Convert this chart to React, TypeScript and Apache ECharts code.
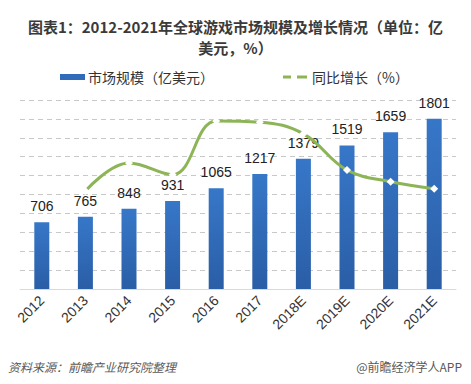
import React, { useEffect, useRef } from "react";
import * as echarts from "echarts";

const categories = ["2012", "2013", "2014", "2015", "2016", "2017", "2018E", "2019E", "2020E", "2021E"];
const marketSize = [706, 765, 848, 931, 1065, 1217, 1379, 1519, 1659, 1801];
const growthRate: (number | null)[] = [null, 8.4, 10.8, 9.8, 14.4, 14.3, 13.3, 10.2, 9.2, 8.6];

const CJK = "'Noto Sans CJK SC', 'Microsoft YaHei', sans-serif";
const LAT = "'Liberation Sans', Arial, 'Noto Sans CJK SC', sans-serif";
const GREEN = "#8db456";

export default function App() {
  const ref = useRef<HTMLDivElement>(null);
  useEffect(() => {
    if (!ref.current) return;
    const chart = echarts.init(ref.current, null, { renderer: "svg" });
    chart.setOption({
      animation: false,
      backgroundColor: "#ffffff",
      title: {
        text: "图表1：2012-2021年全球游戏市场规模及增长情况（单位：亿\n美元，%）",
        left: "center",
        top: 11,
        textStyle: {
          fontFamily: CJK,
          fontSize: 15,
          fontWeight: "bold",
          color: "#3a3a3a",
          lineHeight: 21,
          align: "center",
        },
      },
      grid: { left: 20, right: 15, top: 100, bottom: 95 },
      xAxis: {
        type: "category",
        data: categories,
        axisLine: { lineStyle: { color: "#d9d9d9", width: 1 } },
        axisTick: { show: false },
        axisLabel: {
          rotate: 45,
          fontFamily: LAT,
          fontSize: 14,
          color: "#333333",
          margin: 9,
          interval: 0,
        },
      },
      yAxis: [
        {
          type: "value",
          min: 0,
          max: 2000,
          interval: 200,
          axisLabel: { show: false },
          axisLine: { show: false },
          axisTick: { show: false },
          splitLine: { lineStyle: { color: "#c8c8c8", type: [5, 4], width: 1 } },
        },
        {
          type: "value",
          min: 0,
          max: 16.2,
          axisLabel: { show: false },
          axisLine: { show: false },
          axisTick: { show: false },
          splitLine: { show: false },
        },
      ],
      series: [
        {
          name: "市场规模（亿美元）",
          type: "bar",
          data: marketSize,
          barWidth: 15,
          itemStyle: {
            color: new echarts.graphic.LinearGradient(0, 0, 0, 1, [
              { offset: 0, color: "#3777c8" },
              { offset: 1, color: "#2a5ea6" },
            ]),
          },
          label: {
            show: true,
            position: "top",
            distance: 9,
            fontFamily: LAT,
            fontSize: 14,
            color: "#222222",
          },
        },
        {
          name: "同比增长（%）",
          type: "line",
          yAxisIndex: 1,
          data: growthRate,
          smooth: 0.4,
          lineStyle: { color: GREEN, width: 3 },
          symbol: "diamond",
          symbolSize: 8,
          itemStyle: { color: "#ffffff", borderWidth: 0 },
        },
      ],
      graphic: [
        { type: "rect", shape: { x: 60, y: 74, width: 25, height: 6 }, style: { fill: "#2f6bb8" } },
        {
          type: "text",
          x: 88,
          y: 77,
          style: { text: "市场规模（亿美元）", fontFamily: CJK, fontSize: 14, fill: "#333333", verticalAlign: "middle" },
        },
        {
          type: "line",
          shape: { x1: 283, y1: 77, x2: 291, y2: 77 },
          style: { stroke: GREEN, lineWidth: 3 },
        },
        {
          type: "line",
          shape: { x1: 297, y1: 77, x2: 307, y2: 77 },
          style: { stroke: GREEN, lineWidth: 3 },
        },
        {
          type: "text",
          x: 312,
          y: 77,
          style: { text: "同比增长（%）", fontFamily: CJK, fontSize: 14, fill: "#333333", verticalAlign: "middle" },
        },
        {
          type: "text",
          x: 8,
          y: 366,
          style: {
            text: "资料来源：前瞻产业研究院整理",
            fontFamily: CJK,
            fontSize: 12,
            fontStyle: "italic",
            fill: "#595959",
            verticalAlign: "middle",
          },
        },
        {
          type: "text",
          x: 462,
          y: 366,
          style: {
            text: "@前瞻经济学人APP",
            fontFamily: CJK,
            fontSize: 12,
            fill: "#595959",
            align: "right",
            verticalAlign: "middle",
          },
        },
      ],
    });
    return () => chart.dispose();
  }, []);
  return <div ref={ref} style={{ width: 471, height: 384, position: "absolute", left: 0, top: 0 }} />;
}
